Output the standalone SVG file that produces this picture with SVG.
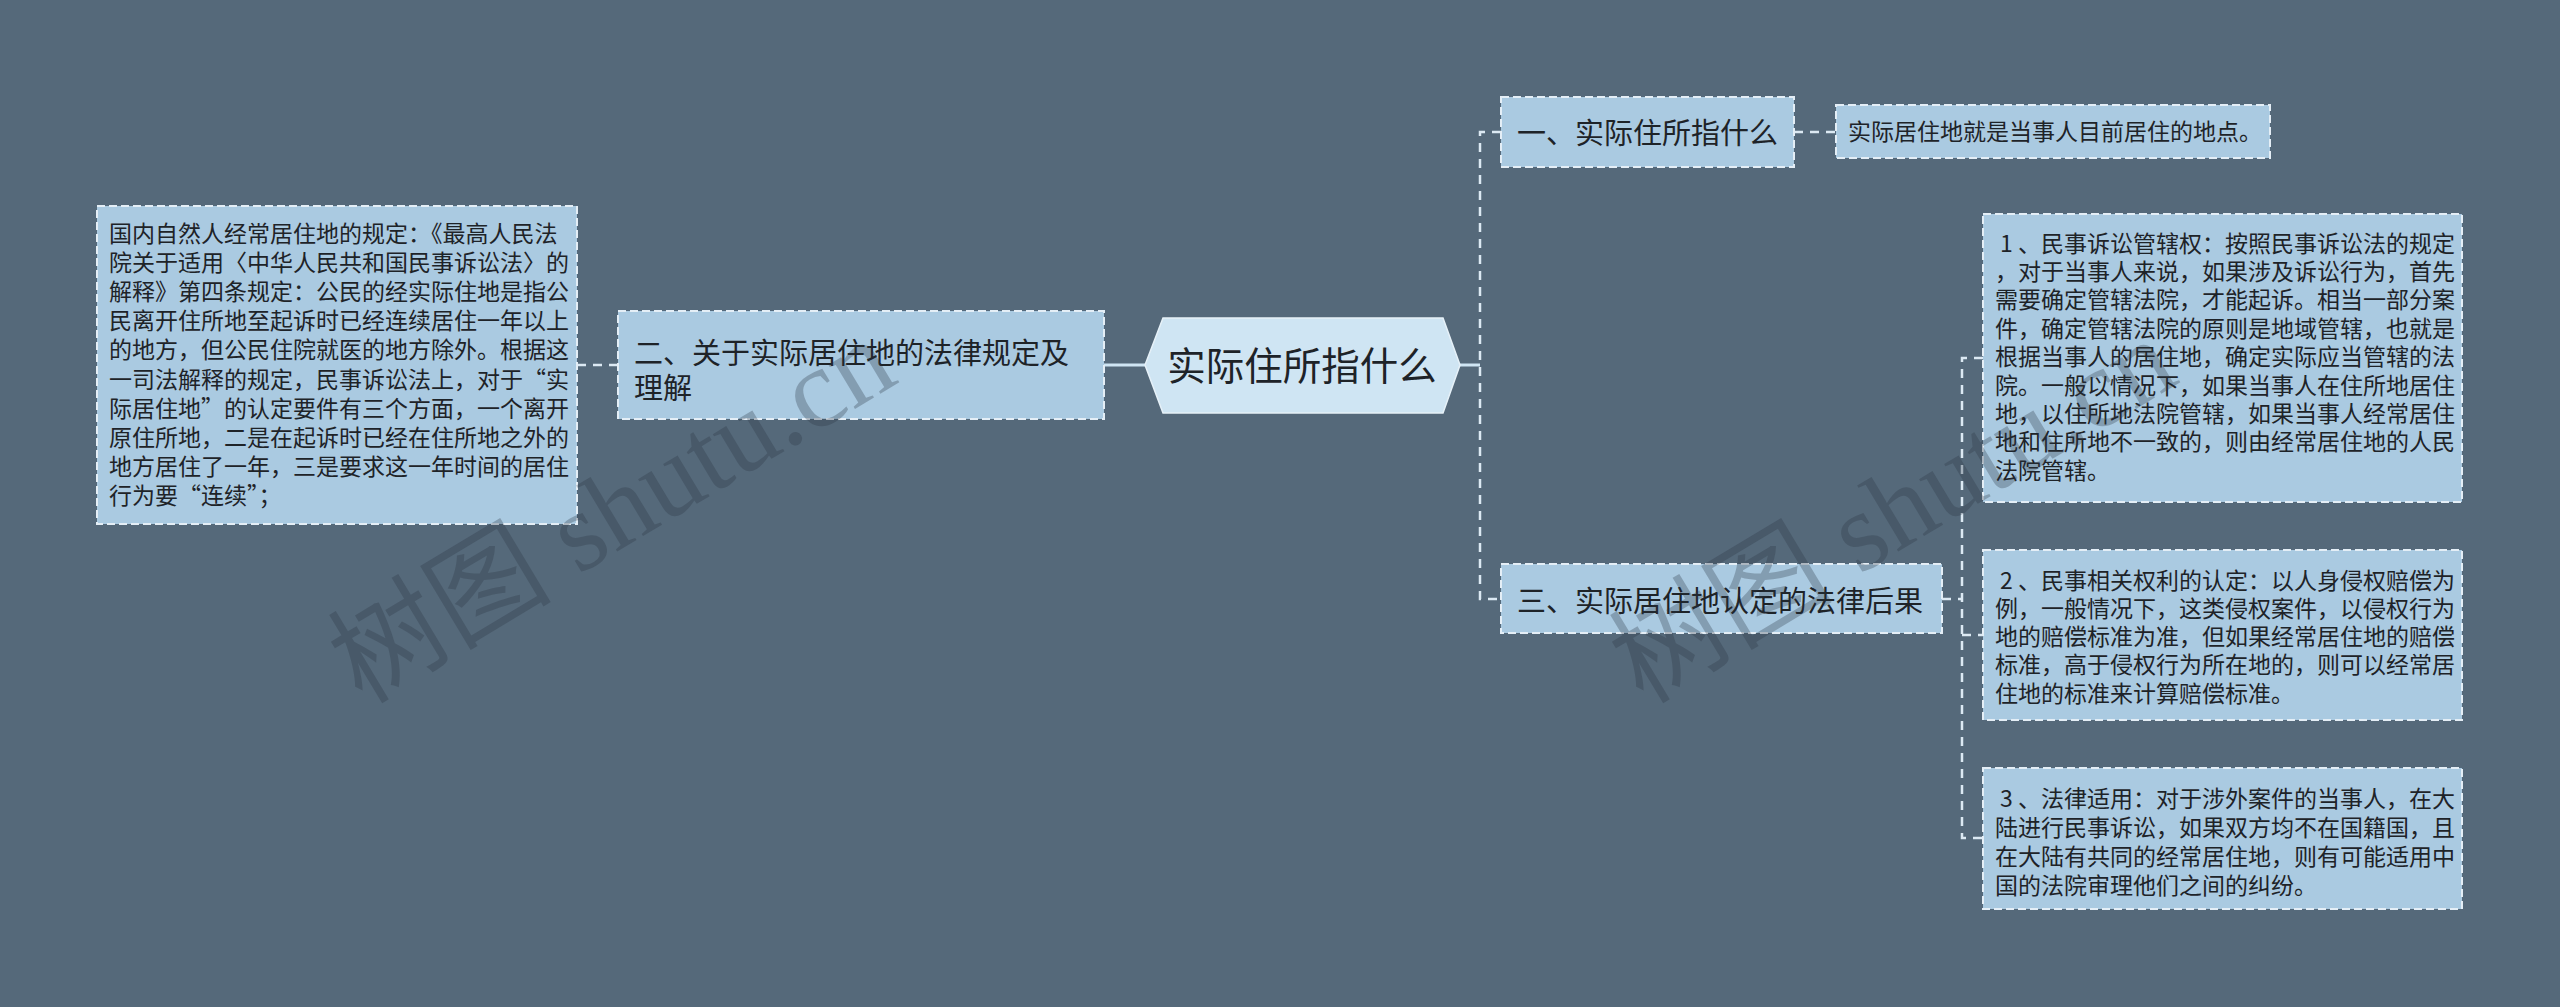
<svg xmlns="http://www.w3.org/2000/svg" width="2560" height="1007" viewBox="0 0 2560 1007">
<style>
.bg{fill:#55697a}
.box{fill:#aacae1;stroke:#e4eef6;stroke-width:2;stroke-dasharray:8 4}
.hex{fill:#cfe5f3;stroke:#e6f1f8;stroke-width:1.5}
.t{font-family:'Noto Sans CJK SC','Noto Sans',sans-serif;fill:#1e2328}
.leaf{font-size:23px}
.br{font-size:29px}
.ct{font-size:38.5px}
.con{fill:none;stroke:#dce9f3;stroke-width:2.5;stroke-dasharray:9 7}
.solid{fill:none;stroke:#cfe5f3;stroke-width:3}
.wm{font-family:'Liberation Serif','Noto Sans CJK SC',serif;font-size:112px;fill:#2a3642;fill-opacity:0.3}
</style>
<rect class="bg" x="0" y="0" width="2560" height="1007"/>
<g id="connectors">
  <path class="solid" d="M1104,365 H1145"/>
  <path class="solid" d="M1460,365 H1480"/>
  <path class="con" d="M577,365 H617"/>
  <path class="con" d="M1501,132 H1480 V599 H1501"/>
  <path class="con" d="M1794,132 H1836"/>
  <path class="con" d="M1942,599 H1962"/>
  <path class="con" d="M1983,358 H1962 V838 H1983"/>
  <path class="con" d="M1962,635 H1983"/>
</g>
<g id="center">
  <polygon class="hex" points="1145,365 1163,318 1443,318 1460,365 1443,413 1163,413"/>
  <text class="t ct" x="1302" y="380" text-anchor="middle">实际住所指什么</text>
</g>
<g id="branch2">
  <rect class="box" x="618" y="311" width="486" height="108"/>
  <text class="t br"><tspan x="634" y="363.5">二、关于实际居住地的法律规定及</tspan><tspan x="634" y="398.5">理解</tspan></text>
</g>
<g id="leaf-left">
  <rect class="box" x="97" y="206" width="480" height="318"/>
  <text class="t leaf">
    <tspan x="109" y="241.5">国内自然人经常居住地的规定：《最高人民法</tspan>
    <tspan x="109" y="270.7">院关于适用〈中华人民共和国民事诉讼法〉的</tspan>
    <tspan x="109" y="299.9">解释》第四条规定：公民的经实际住地是指公</tspan>
    <tspan x="109" y="329.1">民离开住所地至起诉时已经连续居住一年以上</tspan>
    <tspan x="109" y="358.3">的地方，但公民住院就医的地方除外。根据这</tspan>
    <tspan x="109" y="387.5">一司法解释的规定，民事诉讼法上，对于“实</tspan>
    <tspan x="109" y="416.7">际居住地”的认定要件有三个方面，一个离开</tspan>
    <tspan x="109" y="445.9">原住所地，二是在起诉时已经在住所地之外的</tspan>
    <tspan x="109" y="475.1">地方居住了一年，三是要求这一年时间的居住</tspan>
    <tspan x="109" y="504.3">行为要“连续”；</tspan>
  </text>
</g>
<g id="branch1">
  <rect class="box" x="1501" y="97" width="293" height="70"/>
  <text class="t br" x="1517" y="143.5">一、实际住所指什么</text>
</g>
<g id="leaf-b1">
  <rect class="box" x="1836" y="105" width="434" height="53"/>
  <text class="t leaf" x="1848" y="140">实际居住地就是当事人目前居住的地点。</text>
</g>
<g id="branch3">
  <rect class="box" x="1501" y="564" width="441" height="69"/>
  <text class="t br" x="1517" y="611.5">三、实际居住地认定的法律后果</text>
</g>
<g id="leaf-r1">
  <rect class="box" x="1983" y="214" width="479" height="288"/>
  <text class="t leaf">
    <tspan x="2000" y="251.5">1</tspan><tspan x="2018" y="251.5">、民事诉讼管辖权：按照民事诉讼法的规定</tspan>
    <tspan x="1995" y="279.9">，对于当事人来说，如果涉及诉讼行为，首先</tspan>
    <tspan x="1995" y="308.3">需要确定管辖法院，才能起诉。相当一部分案</tspan>
    <tspan x="1995" y="336.7">件，确定管辖法院的原则是地域管辖，也就是</tspan>
    <tspan x="1995" y="365.1">根据当事人的居住地，确定实际应当管辖的法</tspan>
    <tspan x="1995" y="393.5">院。一般以情况下，如果当事人在住所地居住</tspan>
    <tspan x="1995" y="421.9">地，以住所地法院管辖，如果当事人经常居住</tspan>
    <tspan x="1995" y="450.3">地和住所地不一致的，则由经常居住地的人民</tspan>
    <tspan x="1995" y="478.7">法院管辖。</tspan>
  </text>
</g>
<g id="leaf-r2">
  <rect class="box" x="1983" y="550" width="479" height="170"/>
  <text class="t leaf">
    <tspan x="2000" y="588.5">2</tspan><tspan x="2018" y="588.5">、民事相关权利的认定：以人身侵权赔偿为</tspan>
    <tspan x="1995" y="616.8">例，一般情况下，这类侵权案件，以侵权行为</tspan>
    <tspan x="1995" y="645.1">地的赔偿标准为准，但如果经常居住地的赔偿</tspan>
    <tspan x="1995" y="673.4">标准，高于侵权行为所在地的，则可以经常居</tspan>
    <tspan x="1995" y="701.7">住地的标准来计算赔偿标准。</tspan>
  </text>
</g>
<g id="leaf-r3">
  <rect class="box" x="1983" y="768" width="479" height="141"/>
  <text class="t leaf">
    <tspan x="2000" y="806.5">3</tspan><tspan x="2018" y="806.5">、法律适用：对于涉外案件的当事人，在大</tspan>
    <tspan x="1995" y="835.5">陆进行民事诉讼，如果双方均不在国籍国，且</tspan>
    <tspan x="1995" y="864.5">在大陆有共同的经常居住地，则有可能适用中</tspan>
    <tspan x="1995" y="893.5">国的法院审理他们之间的纠纷。</tspan>
  </text>
</g>
<g id="watermark">
  <text class="wm" transform="translate(362,705) rotate(-31)">树图 shutu.cn</text>
  <text class="wm" transform="translate(1643,705) rotate(-31)">树图 shutu.cn</text>
</g>
</svg>
